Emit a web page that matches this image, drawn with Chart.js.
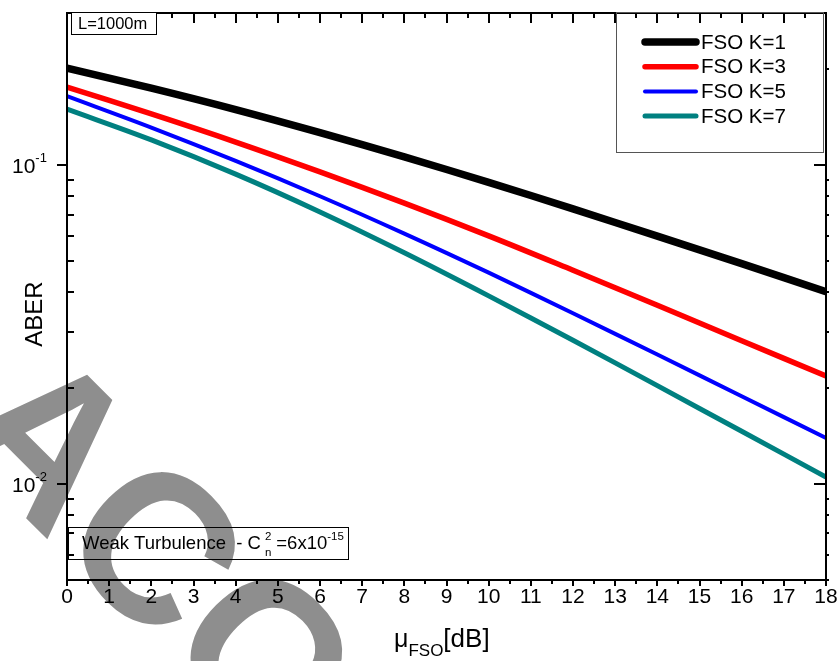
<!DOCTYPE html>
<html>
<head>
<meta charset="utf-8">
<script src="https://cdn.jsdelivr.net/npm/chart.js@4.4.1/dist/chart.umd.min.js"></script>
<style>
  html, body { margin: 0; padding: 0; background: #fff; }
  #wrap { width: 839px; height: 661px; position: relative; }
</style>
</head>
<body>
<div id="wrap"><canvas id="graficoAber"></canvas></div>
<script>
// mu_FSO em dB
const muFso = [0, 2, 4, 6, 8, 10, 12, 14, 16, 18];

// ABER para cada valor de K
const aberK1 = [0.2014, 0.1743, 0.1493, 0.1264, 0.1061, 0.0883, 0.0729, 0.0599, 0.0491, 0.0401];
const aberK3 = [0.1756, 0.1447, 0.1181, 0.0952, 0.0760, 0.0600, 0.0468, 0.03635, 0.02815, 0.0218];
const aberK5 = [0.1646, 0.1312, 0.1031, 0.0799, 0.0610, 0.0460, 0.0343, 0.02547, 0.01885, 0.01394];
const aberK7 = [0.1498, 0.1200, 0.0937, 0.0713, 0.0531, 0.0389, 0.02823, 0.02035, 0.01463, 0.01052];

const rotulos = ['FSO K=1', 'FSO K=3', 'FSO K=5', 'FSO K=7'];
const xTicks = [0, 1, 2, 3, 4, 5, 6, 7, 8, 9, 10, 11, 12, 13, 14, 15, 16, 17, 18];
const yMajor = [0.01, 0.1];
const yMajorExp = ['-2', '-1'];

const FONTE = 'Arial, "Liberation Sans", sans-serif';

function pontos(valores) {
  return muFso.map((x, i) => ({ x: x, y: valores[i] }));
}

// texto com partes em sobrescrito / subscrito
function textoRico(ctx, x, y, partes) {
  let cx = x;
  partes.forEach(p => {
    ctx.font = p.size + 'px ' + FONTE;
    cx += (p.gap || 0);
    ctx.fillText(p.t, cx, y + (p.dy || 0));
    const w = ctx.measureText(p.t).width;
    if (!p.stack) cx += w;
  });
  return cx;
}

const eixosPlugin = {
  id: 'eixos',
  beforeDraw(chart) {
    const ctx = chart.ctx;
    ctx.save();
    ctx.fillStyle = '#fff';
    ctx.fillRect(0, 0, chart.width, chart.height);
    // marca d'água
    ctx.translate(-56, 436);
    ctx.rotate(Math.PI / 4);
    ctx.fillStyle = '#8e8e8e';
    ctx.font = 'bold 210px ' + FONTE;
    ctx.textBaseline = 'alphabetic';
    ctx.fillText('ACCEPTED', 0, 0);
    ctx.restore();
  },
  afterDatasetsDraw(chart) {
    const ctx = chart.ctx;
    const a = chart.chartArea;
    const sx = chart.scales.x;
    const sy = chart.scales.y;
    ctx.save();
    ctx.strokeStyle = '#000';
    ctx.fillStyle = '#000';

    // moldura
    ctx.lineWidth = 2;
    ctx.strokeRect(a.left, a.top, a.right - a.left, a.bottom - a.top);

    // marcas do eixo x
    for (let v = 0; v <= 18; v += 0.5) {
      const px = Math.round(sx.getPixelForValue(v));
      const maior = Number.isInteger(v);
      ctx.beginPath();
      ctx.moveTo(px, a.bottom);
      ctx.lineTo(px, a.bottom + (maior ? 6 : 4));
      ctx.moveTo(px, a.top);
      ctx.lineTo(px, a.top + (maior ? 10 : 5));
      ctx.stroke();
    }

    // marcas do eixo y (log)
    for (let d = -3; d <= -1; d++) {
      for (let m = 1; m <= 9; m++) {
        const v = m * Math.pow(10, d);
        if (v < sy.min || v > sy.max) continue;
        const py = Math.round(sy.getPixelForValue(v));
        ctx.beginPath();
        if (m === 1) {
          ctx.moveTo(a.left - 10, py); ctx.lineTo(a.left, py);
          ctx.moveTo(a.right - 12, py); ctx.lineTo(a.right, py);
        } else {
          ctx.moveTo(a.left, py); ctx.lineTo(a.left + 7, py);
          ctx.moveTo(a.right, py); ctx.lineTo(a.right + 3, py);
        }
        ctx.stroke();
      }
    }

    // rótulos do eixo x
    ctx.font = '21px ' + FONTE;
    ctx.textAlign = 'center';
    ctx.textBaseline = 'middle';
    xTicks.forEach(t => ctx.fillText(String(t), sx.getPixelForValue(t), a.bottom + 17));

    // rótulos do eixo y
    ctx.textAlign = 'left';
    ctx.textBaseline = 'alphabetic';
    yMajor.forEach((v, i) => {
      const py = sy.getPixelForValue(v);
      textoRico(ctx, 12, py + 8, [
        { t: '10', size: 21 },
        { t: yMajorExp[i], size: 13, dy: -11 }
      ]);
    });

    // títulos dos eixos
    ctx.save();
    ctx.translate(42, 314);
    ctx.rotate(-Math.PI / 2);
    ctx.font = '24px ' + FONTE;
    ctx.textAlign = 'center';
    ctx.fillText('ABER', 0, 0);
    ctx.restore();

    textoRico(ctx, 394, 647, [
      { t: 'μ', size: 25 },
      { t: 'FSO', size: 17, dy: 9 },
      { t: '[dB]', size: 26 }
    ]);

    // caixa L=1000m
    ctx.lineWidth = 1;
    ctx.fillStyle = '#fff';
    ctx.fillRect(71.5, 12.5, 85, 22);
    ctx.strokeRect(71.5, 12.5, 85, 22);
    ctx.fillStyle = '#000';
    ctx.font = '16.5px ' + FONTE;
    ctx.fillText('L=1000m', 78, 29);

    // caixa de turbulência
    ctx.strokeRect(68.5, 527.5, 280, 32);
    const cx = textoRico(ctx, 82, 549, [
      { t: 'Weak Turbulence  - C', size: 18.5 }
    ]);
    textoRico(ctx, cx + 2, 549, [
      { t: 'n', size: 11.5, dy: 7, gap: 2, stack: true },
      { t: '2', size: 11.5, dy: -9 },
      { t: '=6x10', size: 18.5, gap: 5 },
      { t: '-15', size: 11.5, dy: -9 }
    ]);

    // legenda
    ctx.strokeStyle = '#555';
    ctx.lineWidth = 1;
    ctx.strokeRect(616.5, 12.5, 207, 140);
    ctx.font = '20.5px ' + FONTE;
    ctx.textBaseline = 'middle';
    chart.data.datasets.forEach((ds, i) => {
      const ly = 42 + i * 24.7;
      ctx.strokeStyle = ds.borderColor;
      ctx.lineWidth = ds.borderWidth;
      ctx.lineCap = 'round';
      ctx.beginPath();
      ctx.moveTo(645, ly);
      ctx.lineTo(696, ly);
      ctx.stroke();
      ctx.fillStyle = '#000';
      ctx.fillText(ds.label, 701, ly + 1);
    });
    ctx.restore();
  }
};

new Chart(document.getElementById('graficoAber'), {
  type: 'line',
  data: {
    datasets: [
      { label: rotulos[0], data: pontos(aberK1), borderColor: '#000000', borderWidth: 7.5 },
      { label: rotulos[1], data: pontos(aberK3), borderColor: '#ff0000', borderWidth: 5.5 },
      { label: rotulos[2], data: pontos(aberK5), borderColor: '#0000ff', borderWidth: 4 },
      { label: rotulos[3], data: pontos(aberK7), borderColor: '#008080', borderWidth: 5 }
    ].map(ds => Object.assign(ds, {
      fill: false,
      pointRadius: 0,
      tension: 0.35,
      borderCapStyle: 'butt'
    }))
  },
  options: {
    responsive: true,
    maintainAspectRatio: false,
    animation: false,
    layout: { padding: { left: 67, right: 13, top: 13, bottom: 81 } },
    plugins: { legend: { display: false }, tooltip: { enabled: false } },
    scales: {
      x: { type: 'linear', min: 0, max: 18, display: false },
      y: { type: 'logarithmic', min: 0.005, max: 0.3, display: false }
    }
  },
  plugins: [eixosPlugin]
});
</script>
</body>
</html>
